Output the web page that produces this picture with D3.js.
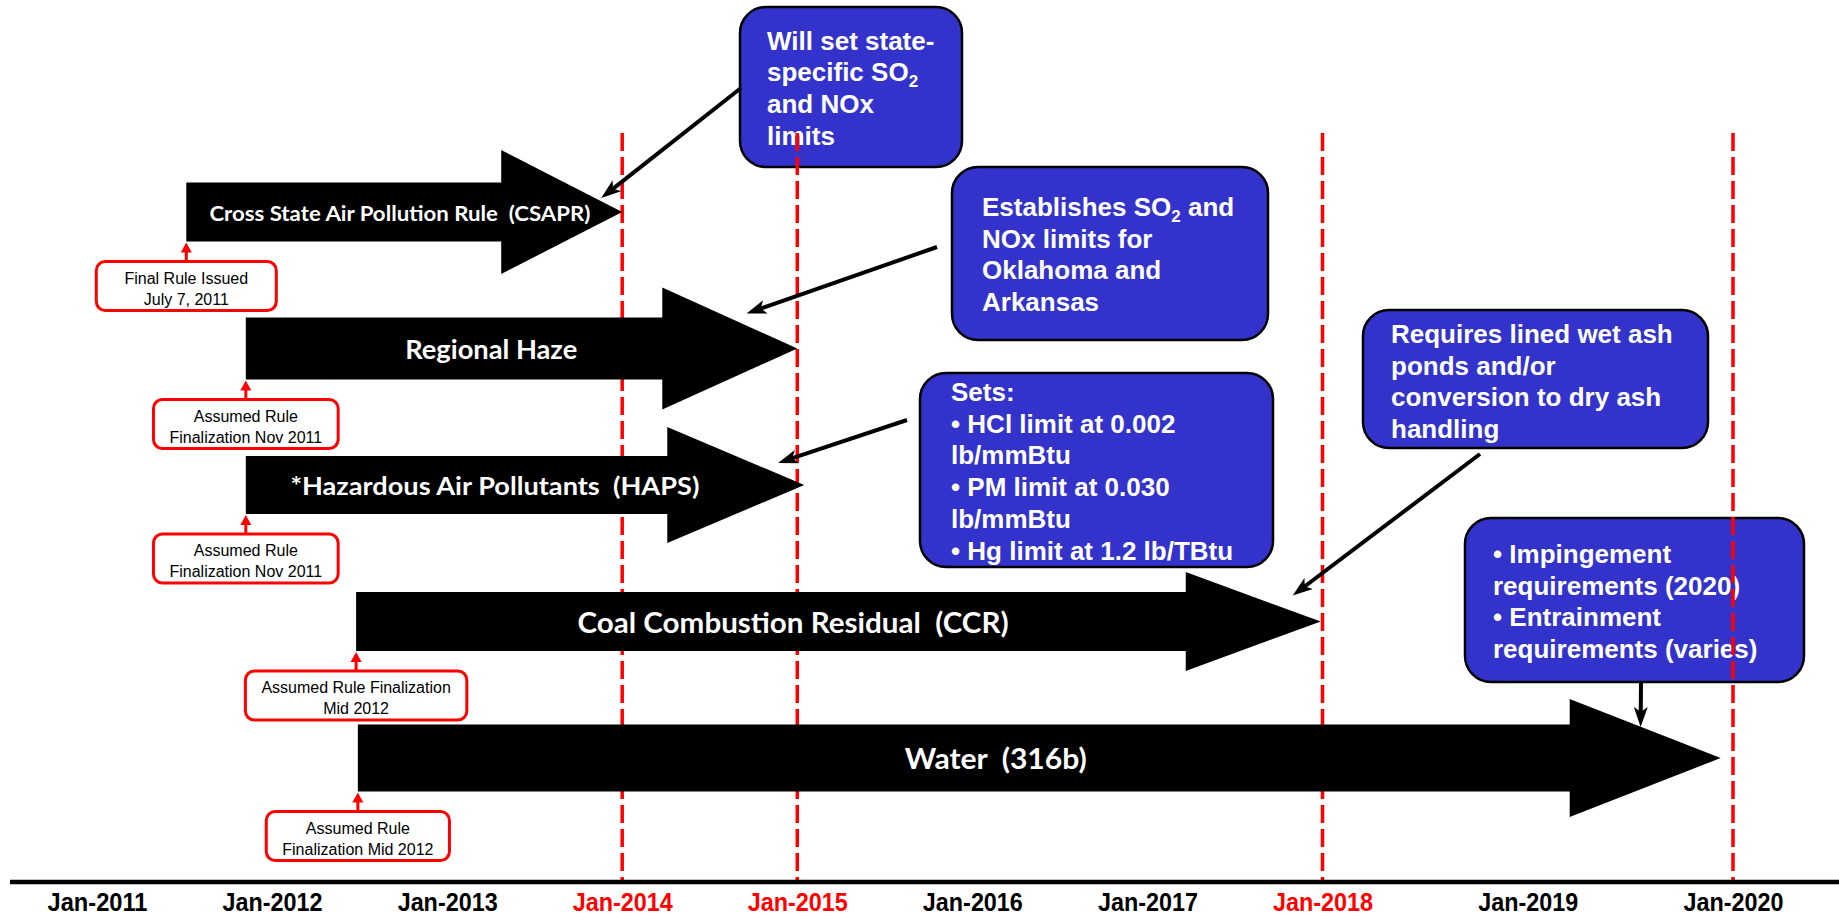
<!DOCTYPE html>
<html>
<head>
<meta charset="utf-8">
<script src="https://cdn.jsdelivr.net/npm/d3@7"></script>
<style>
  html, body { margin: 0; padding: 0; background: #fff; }
  svg { display: block; }
  text { white-space: pre; }
</style>
</head>
<body>
<div id="chart"></div>
<script>
// Timeline ticks
const tickYears = [2011, 2012, 2013, 2014, 2015, 2016, 2017, 2018, 2019, 2020];
const tickLabels = ['Jan-2011', 'Jan-2012', 'Jan-2013', 'Jan-2014', 'Jan-2015',
                    'Jan-2016', 'Jan-2017', 'Jan-2018', 'Jan-2019', 'Jan-2020'];
const redTickYears = [2014, 2015, 2018];
const deadlineYears = [2014, 2015, 2018, 2020];

// Rules (start = finalization, end = compliance)
const ruleNames = [
    'Cross State Air Pollution Rule  (CSAPR)',
    'Regional Haze',
    '*Hazardous Air Pollutants  (HAPS)',
    'Coal Combustion Residual  (CCR)',
    'Water  (316b)'
];
const ruleStarts = [2011.51, 2011.85, 2011.85, 2012.48, 2012.49];
const ruleEnds = [2014.0, 2015.0, 2015.04, 2017.99, 2019.94];
const milestoneLabels = [
    ['Final Rule Issued', 'July 7, 2011'],
    ['Assumed Rule', 'Finalization Nov 2011'],
    ['Assumed Rule', 'Finalization Nov 2011'],
    ['Assumed Rule Finalization', 'Mid 2012'],
    ['Assumed Rule', 'Finalization Mid 2012']
];

// Call-out notes, one per rule
const noteTexts = [
    ['Will set state-', 'specific SO2', 'and NOx', 'limits'],
    ['Establishes SO2 and', 'NOx limits for', 'Oklahoma and', 'Arkansas'],
    ['Sets:', '\u2022 HCl limit at 0.002', 'lb/mmBtu', '\u2022 PM limit at 0.030', 'lb/mmBtu', '\u2022 Hg limit at 1.2 lb/TBtu'],
    ['Requires lined wet ash', 'ponds and/or', 'conversion to dry ash', 'handling'],
    ['\u2022 Impingement', 'requirements (2020)', '\u2022 Entrainment', 'requirements (varies)']
];
const noteTargetDates = [2013.88, 2014.71, 2014.89, 2017.83, 2019.55];

const W = 1839, H = 916;
const axisY = 882;
const blue = '#3333cc';
const red = '#ff0000';

const svg = d3.select('#chart').append('svg')
    .attr('width', W)
    .attr('height', H);

svg.append('rect').attr('width', W).attr('height', H).attr('fill', '#fff');

const x = d3.scaleLinear()
    .domain([2011, 2018, 2020])
    .range([97, 1322.5, 1733]);

const y = d3.scalePoint()
    .domain(ruleNames)
    .range([212, 758]);

// arrow shapes and label fonts, per rule
const arrowStyle = [
    { body: 59, head: 124, len: 121, font: 21, textW: 381, at: 0.49 },
    { body: 62, head: 122, len: 135, font: 26, textW: 172, at: 0.445 },
    { body: 58, head: 116, len: 137, font: 25, textW: 409, at: 0.446 },
    { body: 59, head: 99,  len: 135, font: 28, textW: 431, at: 0.453 },
    { body: 67, head: 118, len: 151, font: 28, textW: 182, at: 0.468 }
];

// note boxes layout (box, text origin, where the pointer leaves the box)
const noteLayout = [
    { x: 740,  y: 7,   w: 222, h: 160, tx: 767,  ty: 49.5, sx: 741,  sy: 88,  dy: -14 },
    { x: 952,  y: 167, w: 316, h: 173, tx: 982,  ty: 216,  sx: 937,  sy: 247, dy: -35 },
    { x: 920,  y: 373, w: 353, h: 194, tx: 951,  ty: 401,  sx: 907,  sy: 420, dy: -22 },
    { x: 1363, y: 310, w: 345, h: 138, tx: 1391, ty: 343,  sx: 1480, sy: 454, dy: -26 },
    { x: 1465, y: 518, w: 339, h: 164, tx: 1493, ty: 563,  sx: 1641, sy: 682, dy: -31 }
];
const noteLineH = 31.7;

svg.append('defs').append('marker')
    .attr('id', 'callHead')
    .attr('viewBox', '0 0 20 14')
    .attr('refX', 8)
    .attr('refY', 7)
    .attr('markerWidth', 20)
    .attr('markerHeight', 14)
    .attr('markerUnits', 'userSpaceOnUse')
    .attr('orient', 'auto')
    .append('path')
    .attr('d', 'M0,0L20,7L0,14L5,7Z')
    .attr('fill', '#000');

// ---- note boxes
function writeLine(text, str) {
    const parts = str.split('SO2');
    parts.forEach((p, i) => {
        if (i === 0) {
            text.append('tspan').text(p + (parts.length > 1 ? 'SO' : ''));
        } else {
            text.append('tspan').attr('dy', 6).attr('font-size', 17).text('2');
            if (p) text.append('tspan').attr('dy', -6).text(p);
        }
    });
}

noteTexts.forEach((lines, i) => {
    const L = noteLayout[i];
    const g = svg.append('g').attr('class', 'note');
    g.append('rect')
        .attr('x', L.x).attr('y', L.y)
        .attr('width', L.w).attr('height', L.h)
        .attr('rx', 26).attr('ry', 26)
        .attr('fill', blue)
        .attr('stroke', '#000')
        .attr('stroke-width', 2.5);
    lines.forEach((line, j) => {
        const t = g.append('text')
            .attr('x', L.tx)
            .attr('y', L.ty + j * noteLineH)
            .attr('font-family', '"Liberation Sans", Arial, sans-serif')
            .attr('font-weight', 'bold')
            .attr('font-size', 26)
            .attr('fill', '#fff');
        writeLine(t, line);
    });
});

// ---- deadline lines
svg.selectAll('.deadline')
    .data(deadlineYears)
    .enter()
    .append('line')
    .attr('class', 'deadline')
    .attr('x1', d => x(d)).attr('x2', d => x(d))
    .attr('y1', 133).attr('y2', axisY)
    .attr('stroke', red)
    .attr('stroke-width', 3.5)
    .attr('stroke-dasharray', '18,6');

// ---- rule arrows
function arrowPath(x0, x1, yc, s) {
    const b = s.body / 2, h = s.head / 2, xh = x1 - s.len;
    return `M${x0},${yc - b}L${xh},${yc - b}L${xh},${yc - h}L${x1},${yc}` +
           `L${xh},${yc + h}L${xh},${yc + b}L${x0},${yc + b}Z`;
}

ruleNames.forEach((name, i) => {
    const s = arrowStyle[i];
    const x0 = x(ruleStarts[i]), x1 = x(ruleEnds[i]), yc = y(name);

    svg.append('path')
        .attr('d', arrowPath(x0, x1, yc, s))
        .attr('fill', '#000');

    svg.append('text')
        .attr('x', x0 + (x1 - x0) * s.at)
        .attr('y', yc)
        .attr('text-anchor', 'middle')
        .attr('dominant-baseline', 'central')
        .attr('font-family', 'Lato, "Open Sans", sans-serif')
        .attr('font-weight', 'bold')
        .attr('font-size', s.font)
        .attr('textLength', s.textW)
        .attr('lengthAdjust', 'spacingAndGlyphs')
        .attr('fill', '#fff')
        .text(name);

    // milestone label under the start of the arrow
    const bodyBottom = yc + s.body / 2;
    const top = bodyBottom + 20;
    const g = svg.append('g').attr('class', 'milestone');
    const rect = g.append('rect');
    let maxW = 0;
    milestoneLabels[i].forEach((line, j) => {
        const t = g.append('text')
            .attr('x', x0)
            .attr('y', top + 22 + j * 21)
            .attr('text-anchor', 'middle')
            .attr('font-family', '"Liberation Sans", Arial, sans-serif')
            .attr('font-size', 16)
            .attr('fill', '#000')
            .text(line);
        maxW = Math.max(maxW, t.node().getComputedTextLength());
    });
    const bw = Math.max(180, maxW + 32);
    rect.attr('x', x0 - bw / 2).attr('y', top)
        .attr('width', bw).attr('height', 49)
        .attr('rx', 9).attr('ry', 9)
        .attr('fill', '#fff')
        .attr('stroke', red)
        .attr('stroke-width', 3);

    g.append('line')
        .attr('x1', x0).attr('x2', x0)
        .attr('y1', top).attr('y2', bodyBottom + 9)
        .attr('stroke', red)
        .attr('stroke-width', 3);
    g.append('path')
        .attr('d', `M${x0},${bodyBottom + 1}L${x0 + 5.5},${bodyBottom + 11}L${x0 - 5.5},${bodyBottom + 11}Z`)
        .attr('fill', red);
});

// ---- pointers from notes to arrows
noteLayout.forEach((L, i) => {
    const tx = x(noteTargetDates[i]);
    const ty = y(ruleNames[i]) + L.dy;
    const dx = tx - L.sx, dy = ty - L.sy;
    const len = Math.hypot(dx, dy);
    svg.append('line')
        .attr('x1', L.sx).attr('y1', L.sy)
        .attr('x2', tx - dx / len * 12).attr('y2', ty - dy / len * 12)
        .attr('stroke', '#000')
        .attr('stroke-width', 4)
        .attr('marker-end', 'url(#callHead)');
});

// ---- time axis
svg.append('line')
    .attr('x1', 10).attr('x2', W)
    .attr('y1', axisY).attr('y2', axisY)
    .attr('stroke', '#000')
    .attr('stroke-width', 4.5);

const axis = svg.append('g')
    .attr('class', 'x-axis')
    .attr('transform', `translate(0,${axisY})`)
    .call(d3.axisBottom(x)
        .tickValues(tickYears)
        .tickSize(0)
        .tickFormat((d, i) => tickLabels[i]));

axis.select('.domain').remove();
axis.selectAll('text')
    .attr('y', 29)
    .attr('dy', null)
    .attr('font-family', '"Liberation Sans", Arial, sans-serif')
    .attr('font-weight', 'bold')
    .attr('font-size', 25)
    .attr('textLength', 100)
    .attr('lengthAdjust', 'spacingAndGlyphs')
    .attr('fill', d => redTickYears.includes(d) ? red : '#000');
</script>
</body>
</html>
